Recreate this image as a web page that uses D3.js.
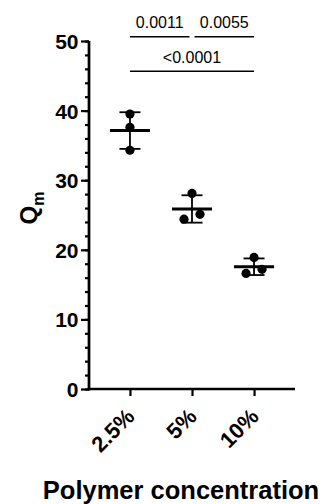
<!DOCTYPE html>
<html>
<head>
<meta charset="utf-8">
<script src="https://cdn.jsdelivr.net/npm/d3@7"></script>
<style>
  html, body { margin: 0; padding: 0; background: #fff; }
  svg { display: block; }
  text { font-family: "Liberation Sans", Arial, sans-serif; fill: #000; }
</style>
</head>
<body>
<svg id="chart" width="325" height="504"></svg>
<script>
// Polymer concentration groups and the three replicate Qm values per group
const categories = ["2.5%", "5%", "10%"];
const valuesLow  = [39.5, 37.6, 34.3];
const valuesMid  = [28.1, 24.4, 25.1];
const valuesHigh = [18.9, 16.6, 17.2];
const seriesValues = [valuesLow, valuesMid, valuesHigh];

// Pairwise comparisons (group indices) with their p-values
const compFrom   = [0, 1, 0];
const compTo     = [1, 2, 2];
const compLabels = ["0.0011", "0.0055", "<0.0001"];
const compRow    = [0, 0, 1];

const yTicks = [0, 10, 20, 30, 40, 50];
const yMinorTicks = d3.range(0, 51, 2);

const svg = d3.select("#chart");
const black = "#000";

const x = d3.scalePoint().domain(categories).range([89, 295]).padding(0.66);
const y = d3.scaleLinear().domain([0, 50]).range([389, 41]);

// Y axis: minor ticks first, then major ticks with labels
const yMinor = svg.append("g")
  .attr("transform", "translate(89,0)")
  .call(d3.axisLeft(y).tickValues(yMinorTicks).tickSize(4).tickFormat(""));
const yAxis = svg.append("g")
  .attr("transform", "translate(89,0)")
  .call(d3.axisLeft(y).tickValues(yTicks).tickSize(8).tickPadding(2.5));
[yMinor, yAxis].forEach(g => {
  g.select(".domain").attr("stroke", black).attr("stroke-width", 2.4)
    .attr("d", `M0,${y(0) + 1.2}V${y(50)}`);
  g.selectAll(".tick line").attr("stroke", black).attr("stroke-width", 2.2);
});
yAxis.selectAll(".tick text")
  .style("font-size", "21px").style("font-weight", "bold")
  .attr("dy", "0.36em");

// X axis
const xAxis = svg.append("g")
  .attr("transform", `translate(0,${y(0)})`)
  .call(d3.axisBottom(x).tickSize(7).tickFormat(""));
xAxis.select(".domain").attr("stroke", black).attr("stroke-width", 2.4)
  .attr("d", `M${89 - 1.2},0H295`);
xAxis.selectAll(".tick line").attr("stroke", black).attr("stroke-width", 2.2);

svg.append("g").selectAll("text")
  .data(categories)
  .join("text")
  .attr("transform", d => `translate(${x(d) + 6},${y(0) + 29}) rotate(-45)`)
  .attr("text-anchor", "end")
  .style("font-size", "22px").style("font-weight", "bold")
  .text(d => d);

// Axis titles
const yTitle = svg.append("text")
  .attr("transform", "translate(37,208) rotate(-90)")
  .attr("text-anchor", "middle")
  .style("font-size", "24px").style("font-weight", "bold");
yTitle.append("tspan").text("Q");
yTitle.append("tspan").attr("dy", 7).style("font-size", "16px").text("m");

svg.append("text")
  .attr("x", 181).attr("y", 499)
  .attr("text-anchor", "middle")
  .style("font-size", "25.5px").style("font-weight", "bold")
  .text("Polymer concentration");

// Points, with overlapping neighbours dodged sideways
const r = 4.6;
const dodge = 8;
const groups = svg.append("g");
seriesValues.forEach((vals, gi) => {
  const cx = x(categories[gi]);
  const sorted = vals.map((v, i) => ({ v, i })).sort((a, b) => a.v - b.v);
  const clusters = [];
  sorted.forEach(p => {
    const last = clusters[clusters.length - 1];
    if (last && Math.abs(y(last[last.length - 1].v) - y(p.v)) < 2 * r) last.push(p);
    else clusters.push([p]);
  });
  const pts = [];
  clusters.forEach(c => c.forEach((p, k) => {
    const off = c.length > 1 ? (k - (c.length - 1) / 2) * 2 * dodge / (c.length - 1) : 0;
    pts.push({ v: p.v, off });
  }));

  const m = d3.mean(vals);
  const sd = d3.deviation(vals);
  const g = groups.append("g");
  // SD whisker with caps
  g.append("line").attr("x1", cx).attr("x2", cx)
    .attr("y1", y(m + sd)).attr("y2", y(m - sd))
    .attr("stroke", black).attr("stroke-width", 1.8);
  [m + sd, m - sd].forEach(v => {
    g.append("line").attr("x1", cx - 10.5).attr("x2", cx + 10.5)
      .attr("y1", y(v)).attr("y2", y(v))
      .attr("stroke", black).attr("stroke-width", 1.8);
  });
  g.selectAll("circle").data(pts).join("circle")
    .attr("cx", d => cx + d.off).attr("cy", d => y(d.v))
    .attr("r", r).attr("fill", black);
  // Mean bar
  g.append("line").attr("x1", cx - 20).attr("x2", cx + 20)
    .attr("y1", y(m)).attr("y2", y(m))
    .attr("stroke", black).attr("stroke-width", 3);
});

// Significance brackets
const rowY = [36.7, 71.3];
const brackets = svg.append("g");
compLabels.forEach((label, i) => {
  const a = compFrom[i], b = compTo[i];
  const shared = (idx, side) => compLabels.some((_, j) => j !== i && compRow[j] === compRow[i] &&
    (side === "start" ? compTo[j] === idx : compFrom[j] === idx));
  const x1 = x(categories[a]) + (shared(a, "start") ? 2.5 : 0);
  const x2 = x(categories[b]) - (shared(b, "end") ? 2.5 : 0);
  const ly = rowY[compRow[i]];
  brackets.append("line").attr("x1", x1).attr("x2", x2)
    .attr("y1", ly).attr("y2", ly)
    .attr("stroke", black).attr("stroke-width", 1.5);
  brackets.append("text")
    .attr("x", (x1 + x2) / 2).attr("y", ly - 8.3)
    .attr("text-anchor", "middle")
    .style("font-size", "16px")
    .text(label);
});
</script>
</body>
</html>
